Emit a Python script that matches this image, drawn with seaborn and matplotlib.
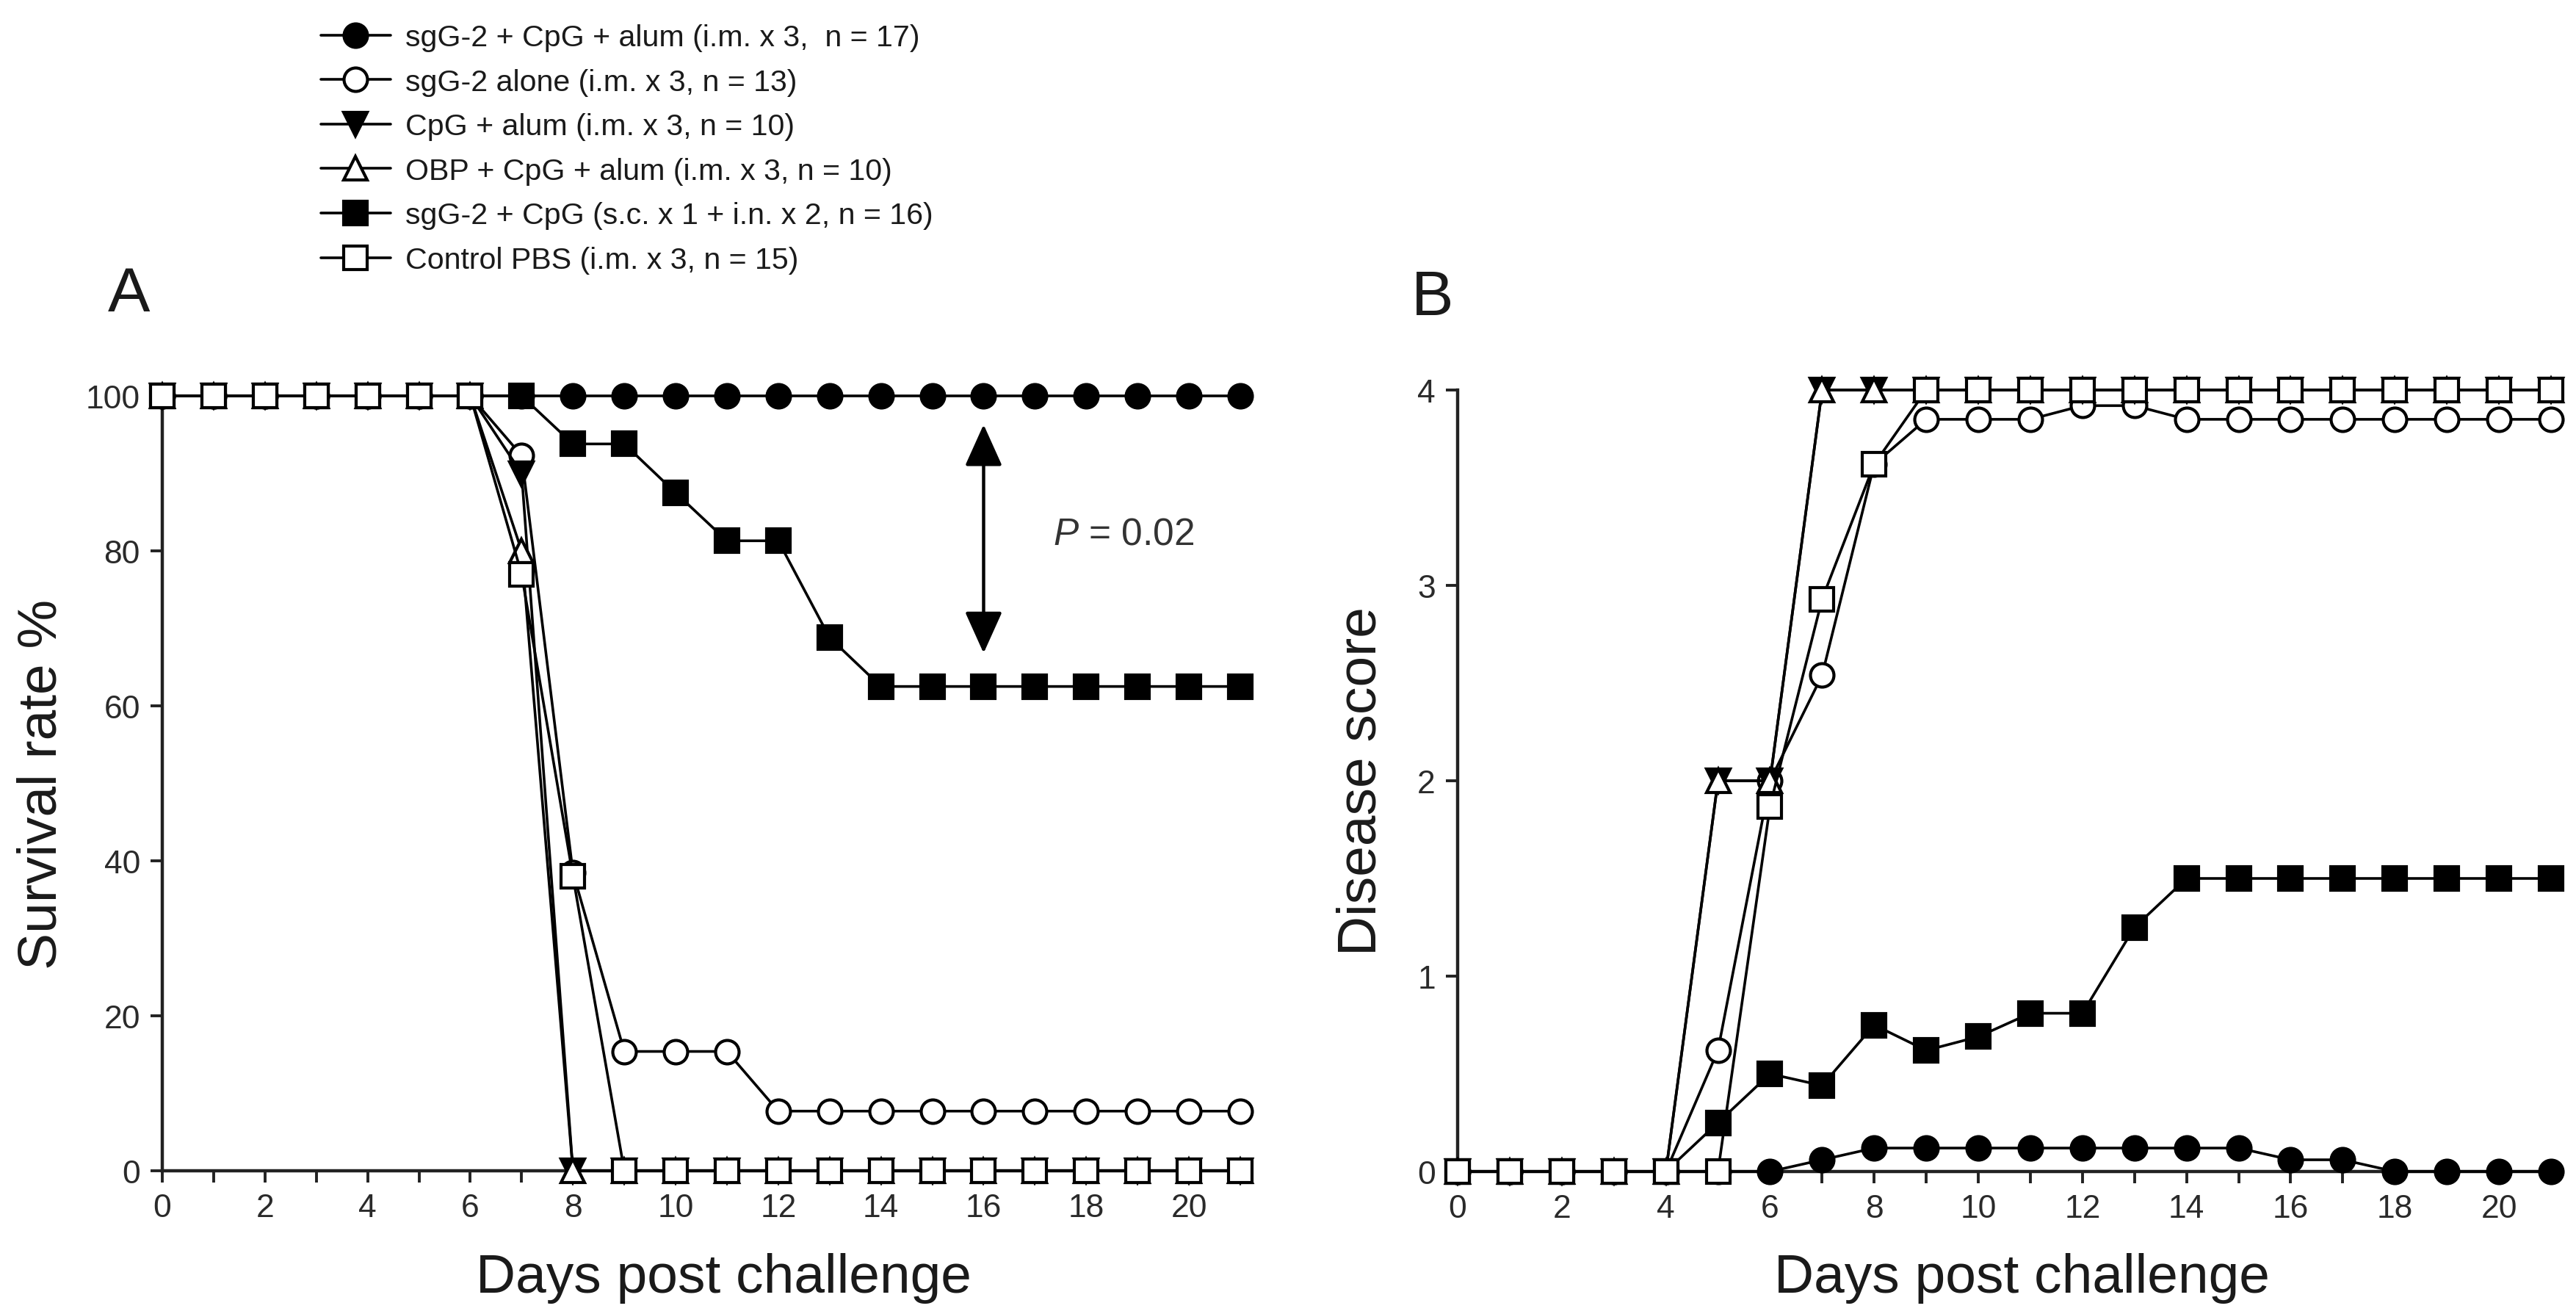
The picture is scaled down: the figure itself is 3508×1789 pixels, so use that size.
import matplotlib
matplotlib.use("Agg")
import matplotlib.pyplot as plt
import seaborn as sns

# ---------------- data ----------------
days = [0, 1, 2, 3, 4, 5, 6, 7, 8, 9, 10, 11, 12, 13, 14, 15, 16, 17, 18, 19, 20, 21]

group_labels = [
    "sgG-2 + CpG + alum (i.m. x 3,  n = 17)",
    "sgG-2 alone (i.m. x 3, n = 13)",
    "CpG + alum (i.m. x 3, n = 10)",
    "OBP + CpG + alum (i.m. x 3, n = 10)",
    "sgG-2 + CpG (s.c. x 1 + i.n. x 2, n = 16)",
    "Control PBS (i.m. x 3, n = 15)",
]

# Panel A: survival rate (%)
surv_sgG2_CpG_alum = [100, 100, 100, 100, 100, 100, 100, 100, 100, 100, 100,
                      100, 100, 100, 100, 100, 100, 100, 100, 100, 100, 100]
surv_sgG2_alone = [100, 100, 100, 100, 100, 100, 100, 92.3, 38.5, 15.4, 15.4,
                   15.4, 7.7, 7.7, 7.7, 7.7, 7.7, 7.7, 7.7, 7.7, 7.7, 7.7]
surv_CpG_alum = [100, 100, 100, 100, 100, 100, 100, 90, 0, 0, 0,
                 0, 0, 0, 0, 0, 0, 0, 0, 0, 0, 0]
surv_OBP_CpG_alum = [100, 100, 100, 100, 100, 100, 100, 80, 0, 0, 0,
                     0, 0, 0, 0, 0, 0, 0, 0, 0, 0, 0]
surv_sgG2_CpG_scin = [100, 100, 100, 100, 100, 100, 100, 100, 93.8, 93.8, 87.5,
                      81.3, 81.3, 68.8, 62.5, 62.5, 62.5, 62.5, 62.5, 62.5, 62.5, 62.5]
surv_PBS = [100, 100, 100, 100, 100, 100, 100, 77, 38, 0, 0,
            0, 0, 0, 0, 0, 0, 0, 0, 0, 0, 0]

# Panel B: disease score
dis_sgG2_CpG_alum = [0, 0, 0, 0, 0, 0, 0, 0.06, 0.12, 0.12, 0.12,
                     0.12, 0.12, 0.12, 0.12, 0.12, 0.06, 0.06, 0, 0, 0, 0]
dis_sgG2_alone = [0, 0, 0, 0, 0, 0.62, 2.0, 2.54, 3.62, 3.85, 3.85,
                  3.85, 3.92, 3.92, 3.85, 3.85, 3.85, 3.85, 3.85, 3.85, 3.85, 3.85]
dis_CpG_alum = [0, 0, 0, 0, 0, 2.0, 2.0, 4, 4, 4, 4,
                4, 4, 4, 4, 4, 4, 4, 4, 4, 4, 4]
dis_OBP_CpG_alum = [0, 0, 0, 0, 0, 2.0, 2.0, 4, 4, 4, 4,
                    4, 4, 4, 4, 4, 4, 4, 4, 4, 4, 4]
dis_sgG2_CpG_scin = [0, 0, 0, 0, 0, 0.25, 0.5, 0.44, 0.75, 0.62, 0.69,
                     0.81, 0.81, 1.25, 1.5, 1.5, 1.5, 1.5, 1.5, 1.5, 1.5, 1.5]
dis_PBS = [0, 0, 0, 0, 0, 0, 1.87, 2.93, 3.62, 4, 4,
           4, 4, 4, 4, 4, 4, 4, 4, 4, 4, 4]

survival_series = [surv_sgG2_CpG_alum, surv_sgG2_alone, surv_CpG_alum,
                   surv_OBP_CpG_alum, surv_sgG2_CpG_scin, surv_PBS]
disease_series = [dis_sgG2_CpG_alum, dis_sgG2_alone, dis_CpG_alum,
                  dis_OBP_CpG_alum, dis_sgG2_CpG_scin, dis_PBS]

survival_ticks = [0, 20, 40, 60, 80, 100]
disease_ticks = [0, 1, 2, 3, 4]
p_value_text = "$P$ = 0.02"

# ---------------- style ----------------
marker_shapes = ["o", "o", "v", "^", "s", "s"]
marker_faces = ["black", "white", "black", "white", "black", "white"]

sns.set_theme(style="ticks")
plt.rcParams["font.family"] = ["Liberation Sans", "DejaVu Sans"]
plt.rcParams["mathtext.fontset"] = "custom"
plt.rcParams["mathtext.it"] = "Liberation Sans:italic"
plt.rcParams["mathtext.rm"] = "Liberation Sans"

INK = "#1a1a1a"
W, H = 3508, 1790
fig = plt.figure(figsize=(W / 200, H / 200), dpi=200)

axA = fig.add_axes([221 / W, 1 - 1595 / H, (1689 - 221) / W, (1595 - 540) / H])
axB = fig.add_axes([1985 / W, 1 - 1596 / H, (3474 - 1985) / W, (1596 - 532) / H])


def draw_panel(ax, series, yticks, ylabel):
    for lab, vals, mk, fc in zip(group_labels, series, marker_shapes, marker_faces):
        sns.lineplot(x=days, y=vals, ax=ax, color="black", linewidth=1.3,
                     marker=mk, markersize=11.5, markerfacecolor=fc,
                     markeredgecolor="black", markeredgewidth=1.5,
                     clip_on=False, label=lab, zorder=3)
    if ax.get_legend() is not None:
        ax.get_legend().remove()
    ax.set_xlim(0, 21)
    ax.set_ylim(yticks[0], yticks[-1])
    ax.set_xticks(days)
    ax.set_xticklabels([str(d) if d % 2 == 0 else "" for d in days])
    ax.set_yticks(yticks)
    sns.despine(ax=ax)
    for sp in ("left", "bottom"):
        ax.spines[sp].set_linewidth(1.6)
        ax.spines[sp].set_color("#222222")
    ax.tick_params(axis="both", direction="out", length=5.8, width=1.4,
                   color="#222222", labelsize=16, labelcolor="#2a2a2a", pad=5)
    ax.set_xlabel("Days post challenge", fontsize=27, color=INK, va="baseline")
    ax.set_ylabel(ylabel, fontsize=27, color=INK, va="center")
    ax.grid(False)


draw_panel(axA, survival_series, survival_ticks, "Survival rate %")
draw_panel(axB, disease_series, disease_ticks, "Disease score")

axA.xaxis.set_label_coords(0.521, -0.156)
axA.yaxis.set_label_coords(-0.112, 0.5)
axB.xaxis.set_label_coords(0.516, -0.154)
axB.yaxis.set_label_coords(-0.088, 0.5)

# significance arrow and P value in panel A
axA.annotate("", xy=(16, 96.3), xytext=(16, 66.8),
             arrowprops=dict(arrowstyle="<|-|>,head_length=0.8,head_width=0.36",
                             color="black", lw=1.6, shrinkA=0, shrinkB=0,
                             mutation_scale=22))
axA.text(17.35, 82.2, p_value_text, fontsize=18.5, color="#333333",
         ha="left", va="center")

# panel letters
fig.text(147 / W, 1 - 424 / H, "A", fontsize=31, color=INK, ha="left", va="baseline")
fig.text(1922 / W, 1 - 429 / H, "B", fontsize=31, color=INK, ha="left", va="baseline")

# legend
handles, labels = axA.get_legend_handles_labels()
fig.legend(handles, labels, loc="upper left",
           bbox_to_anchor=(437 / W, 1 - 33 / H), frameon=False, fontsize=14.8,
           handlelength=2.3, handletextpad=0.5, labelspacing=0.55,
           borderpad=0, borderaxespad=0, labelcolor=INK)

fig.savefig("out.png", dpi=200, facecolor="white")
